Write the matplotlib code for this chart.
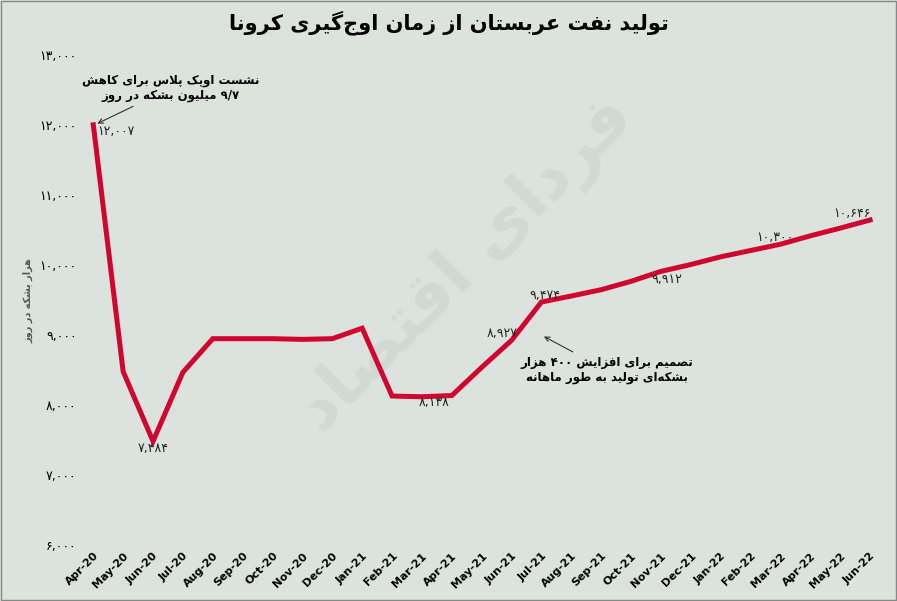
import matplotlib
matplotlib.use("Agg")
import matplotlib.pyplot as plt
import re

months = ["Apr-20", "May-20", "Jun-20", "Jul-20", "Aug-20", "Sep-20", "Oct-20", "Nov-20", "Dec-20",
          "Jan-21", "Feb-21", "Mar-21", "Apr-21", "May-21", "Jun-21", "Jul-21", "Aug-21", "Sep-21",
          "Oct-21", "Nov-21", "Dec-21", "Jan-22", "Feb-22", "Mar-22", "Apr-22", "May-22", "Jun-22"]
production = [12007, 8480, 7484, 8470, 8950, 8950, 8950, 8940, 8950,
              9100, 8130, 8120, 8138, 8540, 8927, 9474, 9560, 9650,
              9770, 9912, 10010, 10120, 10210, 10300, 10420, 10530, 10646]
labelled = {0: "۱۲,۰۰۷", 2: "۷,۴۸۴", 12: "۸,۱۳۸", 14: "۸,۹۲۷", 15: "۹,۴۷۴",
            19: "۹,۹۱۲", 23: "۱۰,۳۰۰", 26: "۱۰,۶۴۶"}
yticks = [6000, 7000, 8000, 9000, 10000, 11000, 12000, 13000]

# --- tiny arabic shaper (no external libs) ---
FORMS = {  # iso, fin, ini, med
    'ا': (0xFE8D, 0xFE8E), 'ب': (0xFE8F, 0xFE90, 0xFE91, 0xFE92), 'ت': (0xFE95, 0xFE96, 0xFE97, 0xFE98),
    'ج': (0xFE9D, 0xFE9E, 0xFE9F, 0xFEA0), 'ح': (0xFEA1, 0xFEA2, 0xFEA3, 0xFEA4), 'خ': (0xFEA5, 0xFEA6, 0xFEA7, 0xFEA8),
    'د': (0xFEA9, 0xFEAA), 'ذ': (0xFEAB, 0xFEAC), 'ر': (0xFEAD, 0xFEAE), 'ز': (0xFEAF, 0xFEB0),
    'س': (0xFEB1, 0xFEB2, 0xFEB3, 0xFEB4), 'ش': (0xFEB5, 0xFEB6, 0xFEB7, 0xFEB8), 'ص': (0xFEB9, 0xFEBA, 0xFEBB, 0xFEBC),
    'ط': (0xFEC1, 0xFEC2, 0xFEC3, 0xFEC4), 'ع': (0xFEC9, 0xFECA, 0xFECB, 0xFECC), 'ف': (0xFED1, 0xFED2, 0xFED3, 0xFED4),
    'ق': (0xFED5, 0xFED6, 0xFED7, 0xFED8), 'ل': (0xFEDD, 0xFEDE, 0xFEDF, 0xFEE0), 'م': (0xFEE1, 0xFEE2, 0xFEE3, 0xFEE4),
    'ن': (0xFEE5, 0xFEE6, 0xFEE7, 0xFEE8), 'ه': (0xFEE9, 0xFEEA, 0xFEEB, 0xFEEC), 'و': (0xFEED, 0xFEEE),
    'پ': (0xFB56, 0xFB57, 0xFB58, 0xFB59), 'ک': (0xFB8E, 0xFB8F, 0xFB90, 0xFB91), 'گ': (0xFB92, 0xFB93, 0xFB94, 0xFB95),
    'ی': (0xFBFC, 0xFBFD, 0xFBFE, 0xFBFF), 'ژ': (0xFB8A, 0xFB8B),
}


def shape_word(s):
    s = s.replace('لا', '\uFEFB')
    out = []
    chars = list(s)
    for i, c in enumerate(chars):
        if c == '\uFEFB':
            prev = chars[i - 1] if i > 0 else None
            j = prev in FORMS and len(FORMS[prev]) == 4
            out.append('\uFEFC' if j else '\uFEFB')
            continue
        if c not in FORMS:
            if c != '\u200c':
                out.append(c)
            continue
        f = FORMS[c]
        prev = chars[i - 1] if i > 0 else None
        nxt = chars[i + 1] if i + 1 < len(chars) else None
        jp = prev in FORMS and len(FORMS[prev]) == 4
        jn = len(f) == 4 and (nxt in FORMS or nxt == '\uFEFB')
        if jp and jn:
            out.append(chr(f[3]))
        elif jp:
            out.append(chr(f[1]))
        elif jn:
            out.append(chr(f[2]))
        else:
            out.append(chr(f[0]))
    return ''.join(out)


def fa(text):
    lines = []
    for line in text.split('\n'):
        rev = shape_word(line)[::-1]
        rev = re.sub(r'[۰-۹0-9][۰-۹0-9,/]*', lambda m: m.group(0)[::-1], rev)
        lines.append(rev)
    return '\n'.join(lines)


def fa_num(v):
    return f"{v:,}".translate(str.maketrans("0123456789", "۰۱۲۳۴۵۶۷۸۹"))


bg = "#dce2de"
red = "#d0062f"
fig = plt.figure(figsize=(8.97, 6.01), dpi=100, facecolor=bg)
ax = fig.add_axes([0.104, 0.093, 0.866, 0.815])
ax.set_facecolor(bg)
fig.patches.append(plt.Rectangle((0.001, 0.002), 0.998, 0.996, transform=fig.transFigure,
                                 fill=False, edgecolor="#888888", lw=1))

x = list(range(len(months)))
ax.plot(x, production, color=red, lw=3.6, solid_joinstyle="miter", zorder=3, clip_on=False)

ax.text(12.5, 10000, fa("فردای اقتصاد"), fontsize=48, color="#d2d8d4", rotation=45,
        ha="center", va="center", zorder=1, fontweight="bold")

offsets = {0: (0.15, -25), 2: (0, -25), 12: (-0.6, -25), 14: (-0.3, 25), 15: (0.1, 25),
           19: (0.2, -30), 23: (-0.2, 25), 26: (-0.6, 22)}
for i, lab in labelled.items():
    dx, dy = offsets[i]
    ha = "left" if i == 0 else "center"
    ax.text(i + dx, production[i] + dy * 4, lab, fontsize=9,
            ha=ha, va="center", color="#222222", zorder=4)

ax.annotate(fa("نشست اوپک پلاس برای کاهش\n۹/۷ میلیون بشکه در روز"), xy=(0.05, 12007), xytext=(2.6, 12530),
            fontsize=8.5, fontweight="bold", ha="center", va="center", linespacing=1.2,
            arrowprops=dict(arrowstyle="->", color="#333333", lw=0.8))
ax.annotate(fa("تصمیم برای افزایش ۴۰۰ هزار\nبشکه‌ای تولید به طور ماهانه"), xy=(15.0, 9000), xytext=(17.2, 8500),
            fontsize=8.5, fontweight="bold", ha="center", va="center", linespacing=1.2,
            arrowprops=dict(arrowstyle="->", color="#333333", lw=0.8))

ax.set_xlim(0, 26)
ax.set_ylim(6000, 13000)
ax.set_yticks(yticks)
ax.set_yticklabels([fa_num(v) for v in yticks], fontsize=9)
ax.set_xticks(x)
ax.set_xticklabels(months, rotation=45, ha="right", rotation_mode="anchor", fontsize=8, fontweight="bold")
ax.tick_params(axis="y", length=0, pad=12)
ax.tick_params(axis="x", length=0, pad=4)
for s in ax.spines.values():
    s.set_visible(False)
ax.set_ylabel(fa("هزار بشکه در روز"), fontsize=7, fontweight="bold", color="#555555")

fig.text(0.5, 0.962, fa("تولید نفت عربستان از زمان اوج‌گیری کرونا"), fontsize=15, fontweight="bold",
         ha="center", va="center")

fig.savefig("out.png", dpi=100, facecolor=bg)
